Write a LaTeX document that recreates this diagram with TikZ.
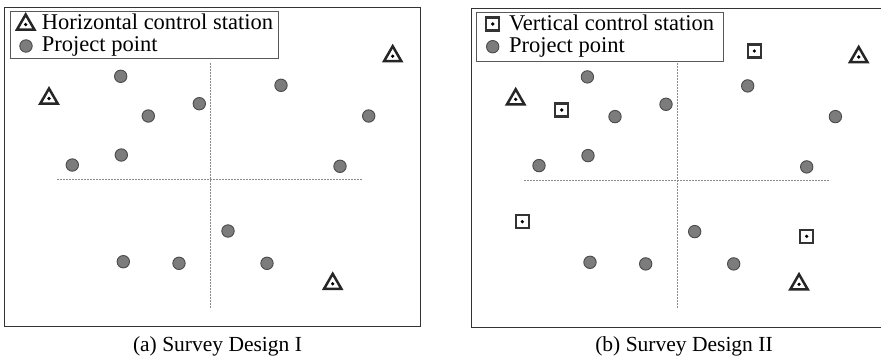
\documentclass[tikz,border=0pt]{standalone}
\usepackage{fontspec}
\setmainfont{Liberation Serif}
\usetikzlibrary{shapes.geometric}
\definecolor{ptfill}{HTML}{7C7C7C}
\definecolor{ptdraw}{HTML}{4A4A4A}
\definecolor{frame}{HTML}{333333}
\definecolor{dashc}{HTML}{8A8A8A}
\tikzset{
  ppt/.style={circle, fill=ptfill, draw=ptdraw, line width=0.9pt, minimum size=12.4pt, inner sep=0pt},
  hcs/.style={regular polygon, regular polygon sides=3, draw=black!85, line width=2.5pt, minimum size=20pt, inner sep=0pt,
    path picture={\fill[black] ([yshift=5pt]path picture bounding box.south) circle (1.8pt);}},
  vcs/.style={rectangle, draw=frame, line width=2.5pt, minimum size=13pt, inner sep=0pt,
    path picture={\fill[black] (path picture bounding box.center) circle (1.8pt);}},
  panel/.style={draw=frame, line width=1pt},
  legbox/.style={draw=black!65, line width=0.6pt},
  axis/.style={draw=dashc, line width=0.6pt, dash pattern=on 2pt off 1pt},
  legtxt/.style={anchor=base west, inner sep=0pt, font=\fontsize{22.5}{24}\selectfont},
  captxt/.style={anchor=base, inner sep=0pt, font=\fontsize{21.5}{24}\selectfont}
}
\begin{document}
\begin{tikzpicture}[x=1pt,y=-1pt]
\useasboundingbox (0,0) rectangle (881,357);
% ---------- panel (a)
\draw[panel] (4.3,7.7) rectangle (420,326.7);
\draw[legbox] (10.3,11.7) rectangle (278,58.3);
\node[hcs] (la1) at (25.7,24.5) {};
\node[legtxt] (lta1) at (41.7,29.5) {Horizontal control station};
\node[ppt] (la2) at (26,46) {};
\node[legtxt] (lta2) at (41.7,51.9) {Project point};
\coordinate (ahw) at (57.3,179.3);
\coordinate (ahe) at (362.7,179.3);
\coordinate (avn) at (210.3,62.7);
\coordinate (avs) at (210.3,308.3);
\draw[axis] (ahw) -- (ahe);
\draw[axis] (avn) -- (avs);
\foreach \x/\y [count=\i] in {120.7/76.3, 199.3/103.7, 148.3/116, 281/85.3, 368.7/116, 121.3/155, 72.3/165, 340/166.3, 228/231, 123.3/261.7, 179/263.3, 267/263.3}
  \node[ppt] (pa\i) at (\x,\y) {};
\node[hcs] (ha1) at (49,98.5) {};
\node[hcs] (ha2) at (392.7,56.2) {};
\node[hcs] (ha3) at (332.7,283.8) {};
\node[captxt] (capa) at (217.5,351) {(a) Survey Design I};
% ---------- panel (b)
\draw[panel] (884,8.3) -- (471.7,8.3) -- (471.7,327.3) -- (884,327.3);
\draw[legbox] (476.7,12.3) rectangle (723.3,61.7);
\node[vcs] (lb1) at (492.7,24) {};
\node[legtxt] (ltb1) at (509,30.2) {Vertical control station};
\node[ppt] (lb2) at (492.7,46.7) {};
\node[legtxt] (ltb2) at (509,52.7) {Project point};
\coordinate (bhw) at (524,180);
\coordinate (bhe) at (829.3,180);
\coordinate (bvn) at (677,63.3);
\coordinate (bvs) at (677,308.3);
\draw[axis] (bhw) -- (bhe);
\draw[axis] (bvn) -- (bvs);
\foreach \x/\y [count=\i] in {120.7/76.3, 199.3/103.7, 148.3/116, 281/85.3, 368.7/116, 121.3/155, 72.3/165, 340/166.3, 228/231, 123.3/261.7, 179/263.3, 267/263.3}
  \node[ppt] (pb\i) at (\x+466.7,\y+0.6) {};
\node[hcs] (hb1) at (515.7,99.3) {};
\node[hcs] (hb2) at (858.7,57) {};
\node[hcs] (hb3) at (799,284.3) {};
\node[vcs] (vb1) at (754.3,51) {};
\node[vcs] (vb2) at (561.7,110) {};
\node[vcs] (vb3) at (522.3,221.7) {};
\node[vcs] (vb4) at (806.7,236.3) {};
\node[captxt] (capb) at (684,351) {(b) Survey Design II};
\end{tikzpicture}
\end{document}
